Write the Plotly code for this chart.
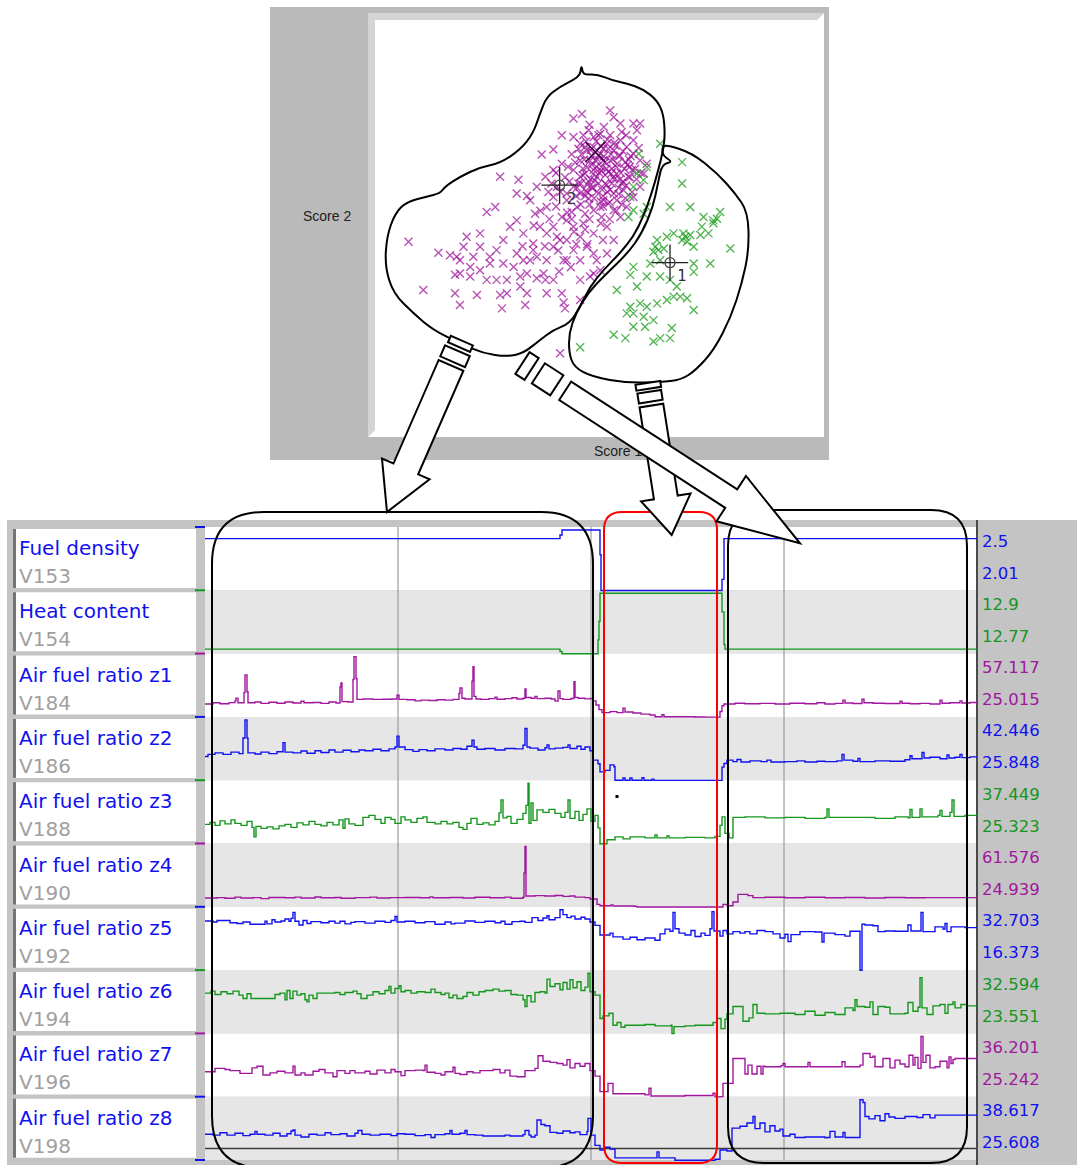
import plotly.graph_objects as go

W, H = 1077, 1165

BLUE = "#1010f0"
GREEN = "#14961c"
PURPLE = "#a0169e"
FONT = "DejaVu Sans"

# ---------------- channel metadata ----------------
channel_names = ["Fuel density", "Heat content", "Air fuel ratio z1", "Air fuel ratio z2",
                 "Air fuel ratio z3", "Air fuel ratio z4", "Air fuel ratio z5",
                 "Air fuel ratio z6", "Air fuel ratio z7", "Air fuel ratio z8"]
channel_ids = ["V153", "V154", "V184", "V186", "V188", "V190", "V192", "V194", "V196", "V198"]
channel_max = [2.5, 12.9, 57.117, 42.446, 37.449, 61.576, 32.703, 32.594, 36.201, 38.617]
channel_min = [2.01, 12.77, 25.015, 25.848, 25.323, 24.939, 16.373, 23.551, 25.242, 25.608]
channel_colors = [BLUE, GREEN, PURPLE, BLUE, GREEN, PURPLE, BLUE, GREEN, PURPLE, BLUE]

# ---------------- trend records: (time, value), held until next record ----------------
fuel_density = [(0, 2.43), (353, 2.43), (355, 2.46), (357, 2.5), (393, 2.5), (395, 2.3), (396, 2.01),
                (515, 2.01), (517, 2.1), (519, 2.43), (772, 2.43)]

heat_content = [(0, 12.78), (353, 12.78), (355, 12.775), (357, 12.77), (392, 12.77), (393, 12.8),
                (394, 12.84), (395, 12.9), (516, 12.9), (517, 12.86), (519, 12.79), (520, 12.78), (772, 12.78)]

afr_z1 = [(0, 32.0), (8, 32.6), (15, 32.1), (24, 32.7), (30, 33.6), (31, 35.1), (33, 32.6), (39, 38.0), (40, 47.4),
          (42, 38.5), (43, 32.6), (50, 33.0), (56, 32.3), (64, 32.9), (72, 32.4), (80, 33.0), (88, 32.5), (96, 33.4),
          (99, 32.6), (108, 32.8), (116, 32.3), (124, 33.0), (131, 32.5), (135, 41.0), (136, 43.1), (137, 33.2),
          (143, 33.0), (148, 45.0), (149, 57.117), (151, 45.5), (152, 34.4), (158, 34.6), (168, 34.4), (178, 34.5),
          (187, 34.6), (192, 36.7), (194, 34.4), (202, 34.2), (210, 33.6), (216, 34.0), (224, 33.8), (232, 34.2),
          (240, 34.0), (248, 34.4), (254, 37.5), (255, 40.5), (257, 35.0), (260, 34.6), (267, 44.0), (268, 51.8),
          (269, 36.0), (271, 34.6), (276, 34.4), (284, 34.8), (290, 35.6), (292, 34.5), (300, 34.8), (307, 35.3),
          (312, 34.6), (318, 35.0), (320, 39.9), (321, 35.4), (326, 35.0), (330, 36.0), (332, 34.8), (340, 35.0),
          (346, 34.6), (350, 33.5), (353, 38.9), (355, 34.8), (358, 34.4), (366, 34.9), (369, 43.8), (370, 35.5),
          (373, 35.0), (380, 34.7), (385, 34.9), (388, 33.6), (391, 31.4), (394, 29.0), (397, 27.4), (405, 27.9),
          (412, 27.4), (418, 29.8), (420, 27.7), (428, 27.2), (436, 26.6), (445, 26.1), (450, 25.2), (457, 26.3),
          (459, 25.2), (490, 25.1), (500, 25.015), (512, 25.015), (515, 28.0), (517, 31.0), (519, 32.0), (530, 32.4),
          (540, 32.1), (555, 32.3), (570, 32.0), (585, 32.4), (600, 32.1), (612, 32.6), (620, 32.0), (630, 32.3),
          (638, 34.0), (640, 32.5), (648, 32.2), (657, 34.5), (659, 32.6), (668, 32.4), (680, 32.2), (695, 33.5),
          (697, 32.4), (705, 32.1), (715, 32.3), (725, 32.0), (735, 34.0), (737, 32.4), (745, 32.6), (755, 33.6),
          (757, 32.5), (765, 32.8), (772, 32.6)]

afr_z2 = [(0, 32.4), (3, 33.0), (10, 33.4), (18, 33.0), (26, 33.6), (34, 33.2), (38, 37.5), (40, 42.446), (42, 37.5),
          (43, 33.4), (50, 33.1), (56, 33.6), (64, 33.2), (72, 33.7), (78, 36.2), (80, 33.6), (88, 33.4), (96, 33.9),
          (102, 33.3), (110, 34.0), (116, 33.5), (124, 34.2), (130, 33.6), (138, 34.1), (146, 33.7), (154, 34.2),
          (160, 34.0), (168, 34.4), (176, 34.0), (184, 34.5), (190, 35.0), (192, 38.0), (194, 35.0), (200, 34.3),
          (208, 33.8), (214, 34.3), (222, 34.0), (230, 34.5), (240, 34.2), (248, 34.6), (256, 34.4), (262, 35.2),
          (267, 36.9), (269, 35.0), (272, 34.4), (280, 34.6), (290, 34.2), (300, 34.6), (310, 34.5), (318, 35.5),
          (320, 40.1), (322, 35.0), (325, 34.7), (333, 34.2), (340, 34.8), (342, 35.6), (344, 34.5), (350, 34.7),
          (358, 34.9), (363, 35.6), (365, 34.6), (372, 35.2), (376, 34.4), (380, 35.0), (385, 34.0), (388, 31.4),
          (393, 30.4), (395, 28.2), (400, 28.6), (405, 30.1), (409, 29.6), (410, 25.9), (418, 26.5), (420, 25.9),
          (425, 26.5), (427, 25.9), (437, 26.6), (439, 25.9), (447, 26.2), (449, 25.848), (515, 25.848), (517, 29.5),
          (519, 30.5), (522, 31.4), (528, 31.0), (532, 31.6), (536, 30.9), (545, 31.2), (556, 31.0), (562, 31.4),
          (566, 30.9), (580, 31.0), (592, 31.2), (600, 30.9), (612, 31.1), (620, 31.0), (632, 31.2), (637, 33.0),
          (639, 31.4), (648, 31.1), (653, 31.9), (655, 31.0), (670, 31.2), (685, 31.1), (700, 31.5), (705, 32.6),
          (707, 31.8), (717, 33.5), (719, 32.0), (725, 32.2), (735, 31.8), (742, 32.8), (744, 32.0), (750, 32.2),
          (755, 33.0), (757, 32.1), (765, 32.3), (772, 32.1)]

afr_z3 = [(0, 29.2), (5, 29.6), (10, 29.0), (15, 29.9), (20, 29.3), (26, 30.1), (30, 29.4), (36, 29.0), (42, 29.8),
          (47, 28.6), (49, 26.7), (51, 28.8), (56, 28.4), (62, 28.7), (68, 28.3), (74, 28.9), (80, 29.2), (86, 28.6),
          (92, 29.5), (98, 29.1), (104, 29.8), (110, 29.2), (116, 28.9), (122, 29.6), (128, 29.1), (134, 30.1),
          (138, 28.4), (140, 30.3), (144, 29.3), (150, 29.0), (158, 30.6), (164, 31.0), (170, 30.2), (176, 29.4),
          (180, 30.6), (186, 30.2), (190, 29.4), (196, 30.7), (200, 30.1), (206, 29.6), (212, 30.4), (218, 30.7),
          (222, 29.6), (230, 29.3), (236, 29.8), (242, 29.3), (248, 29.6), (254, 28.6), (258, 28.2), (262, 29.4),
          (266, 30.4), (272, 29.2), (278, 29.5), (284, 29.1), (290, 29.8), (294, 31.5), (296, 34.1), (298, 30.5),
          (302, 30.8), (306, 29.4), (312, 30.2), (318, 31.4), (321, 33.0), (323, 37.449), (324, 29.4), (326, 33.5),
          (328, 30.0), (332, 32.1), (338, 31.6), (344, 32.2), (350, 31.4), (356, 30.6), (360, 31.6), (363, 34.1),
          (365, 30.4), (370, 31.8), (374, 30.0), (378, 31.2), (382, 32.3), (386, 29.8), (390, 31.0), (393, 28.5),
          (395, 25.323), (402, 26.1), (410, 26.7), (418, 26.3), (425, 26.7), (440, 26.5), (450, 27.1), (452, 26.5),
          (462, 26.9), (464, 26.5), (480, 26.6), (500, 26.5), (510, 26.8), (515, 29.0), (517, 30.7), (520, 27.4),
          (524, 26.5), (528, 30.6), (540, 30.7), (560, 30.5), (580, 30.6), (600, 30.4), (620, 30.6), (622, 32.3),
          (624, 30.6), (650, 30.6), (670, 30.4), (690, 30.7), (703, 30.5), (705, 32.2), (707, 30.6), (713, 30.6),
          (715, 32.3), (717, 30.7), (733, 31.0), (735, 32.0), (737, 30.8), (745, 31.6), (747, 34.1), (749, 30.8),
          (760, 31.0), (772, 30.9)]

afr_z4 = [(0, 30.4), (12, 30.6), (20, 30.2), (30, 30.9), (36, 30.4), (48, 30.6), (56, 30.0), (64, 30.7), (80, 30.5),
          (90, 30.9), (96, 30.4), (110, 31.0), (116, 30.5), (130, 30.7), (136, 30.2), (150, 30.6), (165, 30.9),
          (172, 30.4), (185, 30.6), (200, 30.7), (215, 30.5), (225, 31.1), (228, 30.5), (245, 30.7), (258, 30.4),
          (270, 30.8), (285, 30.5), (300, 30.9), (306, 30.2), (318, 30.8), (319, 45.5), (320, 61.576), (321, 31.6),
          (330, 31.8), (340, 31.6), (350, 31.9), (358, 31.4), (365, 31.6), (370, 30.9), (380, 30.6), (385, 29.8),
          (392, 26.5), (395, 25.7), (406, 26.2), (408, 25.5), (430, 25.3), (432, 24.939), (516, 24.939), (518, 26.5),
          (522, 25.7), (528, 28.0), (533, 32.6), (538, 32.6), (543, 31.8), (548, 30.6), (560, 30.8), (580, 30.5),
          (600, 30.8), (620, 30.5), (640, 30.7), (660, 30.4), (680, 30.7), (700, 30.5), (720, 30.6), (772, 30.6)]

afr_z5 = [(0, 29.7), (8, 29.4), (12, 29.8), (25, 29.2), (32, 29.0), (38, 29.4), (45, 28.8), (55, 28.8), (60, 29.6),
          (62, 28.9), (67, 30.0), (70, 29.4), (76, 29.7), (80, 30.2), (84, 29.6), (86, 30.4), (88, 32.0), (90, 29.6),
          (94, 28.6), (98, 29.8), (102, 29.0), (106, 29.5), (116, 29.2), (124, 29.6), (130, 29.1), (135, 29.6),
          (140, 28.9), (146, 29.3), (150, 29.5), (160, 29.1), (170, 29.6), (180, 29.3), (186, 29.8), (190, 30.9),
          (192, 29.4), (200, 29.6), (210, 29.2), (220, 29.5), (230, 28.8), (240, 29.4), (246, 28.9), (250, 29.1),
          (260, 29.7), (270, 29.3), (280, 29.6), (290, 29.2), (296, 29.6), (300, 28.8), (307, 29.5), (315, 29.6),
          (320, 29.3), (327, 30.6), (333, 29.8), (338, 30.5), (342, 31.1), (344, 30.0), (350, 30.6), (355, 32.703),
          (358, 31.4), (362, 30.6), (366, 31.0), (370, 30.2), (376, 30.7), (380, 30.2), (385, 29.4), (390, 28.5),
          (395, 25.9), (405, 26.4), (408, 25.4), (418, 24.8), (425, 25.3), (432, 24.6), (440, 25.1), (450, 24.5),
          (455, 26.2), (460, 27.5), (465, 26.9), (468, 32.0), (470, 27.6), (474, 26.4), (480, 25.9), (486, 27.1),
          (490, 25.5), (496, 26.4), (500, 25.8), (505, 27.6), (507, 32.2), (509, 27.0), (515, 25.6), (518, 27.1),
          (522, 26.2), (528, 26.8), (535, 26.4), (540, 26.8), (545, 26.2), (552, 27.1), (560, 26.8), (568, 26.2),
          (575, 25.1), (580, 26.1), (583, 24.1), (586, 26.0), (595, 26.8), (610, 26.7), (617, 24.0), (619, 26.4),
          (630, 26.0), (640, 25.6), (645, 26.9), (654, 26.9), (655, 16.373), (657, 28.8), (660, 28.6), (668, 28.4),
          (673, 26.8), (680, 27.0), (690, 26.9), (700, 26.9), (703, 28.6), (706, 27.0), (712, 27.0), (716, 32.0),
          (718, 26.8), (728, 26.8), (730, 28.1), (738, 27.5), (740, 29.0), (742, 26.8), (746, 28.1), (760, 27.9),
          (772, 28.0)]

afr_z6 = [(0, 29.6), (6, 29.9), (10, 29.4), (16, 29.8), (22, 29.5), (28, 29.9), (34, 29.3), (38, 28.8), (42, 29.5),
          (46, 28.8), (68, 28.8), (70, 29.4), (75, 29.6), (80, 28.6), (82, 30.0), (85, 28.8), (88, 29.9), (92, 29.3),
          (96, 29.5), (100, 28.6), (102, 28.3), (104, 29.3), (108, 28.8), (112, 29.6), (130, 29.7), (135, 29.4),
          (140, 29.7), (148, 29.9), (152, 29.5), (156, 28.8), (162, 29.3), (168, 29.8), (174, 29.5), (180, 30.0),
          (184, 30.6), (186, 29.6), (190, 30.3), (194, 30.7), (196, 29.8), (200, 30.0), (206, 29.6), (212, 29.8),
          (220, 29.7), (226, 30.2), (230, 29.7), (236, 29.4), (240, 29.6), (244, 28.9), (248, 29.3), (252, 28.8),
          (258, 29.1), (262, 29.7), (268, 29.3), (274, 29.8), (280, 30.0), (288, 30.2), (294, 29.9), (300, 30.0),
          (306, 29.4), (312, 29.3), (318, 28.6), (320, 27.6), (322, 29.2), (326, 28.3), (330, 29.7), (335, 29.8),
          (340, 29.6), (342, 31.7), (345, 30.6), (350, 31.0), (355, 30.1), (358, 31.2), (362, 30.2), (365, 31.6),
          (368, 30.4), (372, 31.3), (376, 30.0), (380, 30.5), (383, 32.594), (385, 29.8), (390, 29.3), (395, 25.8),
          (398, 26.2), (404, 26.6), (408, 24.8), (412, 25.2), (416, 24.5), (420, 24.8), (440, 24.9), (450, 24.7),
          (466, 24.8), (467, 23.551), (469, 24.6), (480, 24.7), (490, 24.8), (508, 25.2), (512, 25.8), (516, 24.3),
          (520, 25.7), (522, 26.5), (528, 27.6), (535, 27.6), (538, 25.4), (544, 25.9), (548, 27.9), (552, 26.6),
          (560, 26.5), (575, 26.6), (590, 26.4), (600, 26.9), (610, 26.3), (620, 26.7), (630, 26.4), (640, 27.4),
          (648, 27.0), (650, 28.6), (652, 27.6), (660, 27.5), (665, 28.3), (668, 26.4), (673, 27.6), (680, 27.5),
          (685, 26.5), (700, 26.6), (703, 28.2), (708, 26.9), (713, 27.5), (715, 31.9), (717, 27.4), (722, 26.4),
          (728, 27.7), (735, 27.9), (740, 26.6), (743, 27.9), (748, 28.3), (750, 27.4), (756, 27.9), (762, 27.7),
          (772, 27.7)]

afr_z7 = [(0, 29.8), (10, 30.4), (20, 30.2), (25, 30.0), (35, 29.5), (47, 30.5), (52, 30.8), (58, 29.2), (65, 29.6),
          (72, 29.9), (80, 29.6), (88, 30.8), (90, 29.2), (96, 29.6), (100, 29.2), (108, 29.9), (114, 30.2), (120, 29.6),
          (128, 28.9), (132, 30.0), (140, 29.5), (145, 30.0), (150, 29.6), (160, 29.9), (165, 29.4), (172, 30.1),
          (180, 29.6), (186, 30.2), (190, 29.8), (196, 29.1), (200, 30.0), (210, 30.1), (218, 30.0), (220, 31.0),
          (222, 29.7), (230, 29.5), (236, 29.2), (240, 29.8), (248, 30.6), (250, 29.5), (255, 29.3), (262, 29.8),
          (268, 29.6), (275, 30.0), (282, 30.0), (288, 30.2), (295, 29.6), (300, 30.1), (305, 29.0), (312, 28.9),
          (320, 30.0), (330, 30.4), (333, 32.7), (338, 31.7), (345, 31.5), (352, 31.3), (358, 31.0), (362, 32.0),
          (365, 30.5), (370, 31.3), (375, 30.8), (380, 31.3), (385, 30.0), (390, 29.0), (395, 26.2), (403, 27.7),
          (408, 25.8), (440, 25.6), (444, 26.8), (446, 25.4), (480, 25.5), (508, 25.9), (510, 25.242), (515, 25.3),
          (518, 27.7), (522, 27.7), (528, 32.2), (538, 32.2), (540, 29.4), (543, 31.0), (547, 29.4), (552, 30.8),
          (555, 30.8), (556, 29.4), (558, 30.8), (560, 30.7), (576, 30.9), (578, 31.3), (580, 30.7), (600, 30.7),
          (603, 31.5), (605, 30.7), (635, 30.7), (637, 31.6), (640, 30.7), (655, 31.0), (658, 33.1), (665, 32.4),
          (668, 32.6), (670, 30.7), (677, 30.7), (678, 32.2), (682, 32.2), (685, 30.5), (690, 31.9), (695, 31.2),
          (700, 30.7), (704, 32.8), (708, 31.0), (710, 32.4), (713, 30.4), (716, 36.201), (718, 31.5), (721, 32.8),
          (725, 30.5), (730, 30.7), (735, 31.7), (740, 31.7), (742, 30.5), (744, 32.5), (746, 31.3), (748, 32.0),
          (750, 32.2), (772, 32.2)]

afr_z8 = [(0, 31.2), (8, 31.0), (15, 31.5), (22, 31.0), (30, 31.4), (38, 30.9), (45, 31.2), (50, 31.8), (52, 31.2),
          (60, 31.0), (68, 31.4), (75, 30.8), (82, 31.3), (86, 31.9), (88, 32.1), (90, 31.0), (96, 30.6), (104, 31.2),
          (112, 31.0), (120, 31.5), (126, 31.1), (135, 31.3), (142, 30.8), (150, 31.4), (153, 32.0), (157, 31.2),
          (165, 31.0), (175, 31.2), (186, 30.9), (192, 31.3), (200, 31.2), (210, 30.9), (220, 31.1), (226, 30.5),
          (230, 31.1), (240, 31.3), (245, 32.0), (247, 31.2), (255, 31.4), (260, 32.0), (262, 31.1), (270, 31.0),
          (278, 30.8), (290, 30.8), (300, 31.0), (305, 30.8), (318, 31.1), (320, 32.0), (324, 31.0), (326, 30.6),
          (330, 31.0), (332, 34.25), (336, 33.3), (340, 33.0), (345, 31.6), (352, 31.4), (358, 31.9), (365, 31.5),
          (370, 31.7), (375, 31.1), (382, 31.8), (383, 34.6), (386, 31.0), (390, 28.8), (395, 27.8), (400, 28.4),
          (405, 28.0), (410, 26.1), (450, 26.1), (452, 27.4), (454, 26.1), (470, 25.608), (510, 25.8), (515, 27.8),
          (522, 27.6), (527, 32.5), (535, 32.9), (542, 33.6), (548, 35.0), (550, 32.4), (555, 33.6), (560, 31.7),
          (565, 33.0), (570, 31.9), (575, 32.3), (578, 30.8), (585, 31.2), (590, 30.5), (600, 30.6), (620, 30.4),
          (622, 30.5), (625, 31.8), (630, 30.6), (638, 31.6), (640, 30.5), (650, 30.5), (655, 38.617), (658, 38.0),
          (660, 35.0), (664, 34.5), (670, 35.2), (675, 34.1), (680, 35.6), (684, 34.9), (690, 34.6), (700, 35.0),
          (712, 34.8), (718, 35.4), (725, 34.7), (730, 35.3), (772, 35.3)]

channel_series = [fuel_density, heat_content, afr_z1, afr_z2, afr_z3, afr_z4, afr_z5, afr_z6, afr_z7, afr_z8]

# ---------------- score plot (Score 1 vs Score 2) ----------------
group2_s1 = [-4.25, -3.58, -3.92, -3.21, -3.10, -2.72, -2.20, -2.16, -1.64, -1.16, -0.75, -0.78, -0.86, -3.21, -2.95,
             -2.65, -2.50, -2.31, -2.20, -1.79, -1.83, -1.60, -1.42, -1.27, -1.01, -0.82, -0.56, -0.37, 0.26, 0.34,
             0.49, 0.78, 0.93, 0.86, 0.52, -0.56, -0.22, 0.04, -3.32, -3.10, -2.87, -2.65, -2.43, -2.28, -2.05, -1.90,
             -1.75, -1.60, -1.38, -1.19, -1.01, -0.71, -0.41, -0.19, 0.04, -0.41, -0.26, -0.56, -0.86, -1.01, -1.16,
             -1.31, -1.46, -1.68, -1.83, -1.98, -2.13, -2.28, -2.43, -2.65, -2.80, -3.02, -3.17, -2.87, -3.10, -2.50,
             -1.83, -1.53, -1.38, -1.60, -1.75, -2.05, -1.46, -1.23, -0.82, -0.41, -0.11, 0.19, 0.34, -0.04, -1.01,
             -0.71, -1.16, -1.38, -1.53, -1.19, -1.01, -0.93, -0.71, -0.82, -0.41, -0.26, -0.11, 0.04, 0.19, 0.34,
             0.49, 0.63, 0.78, 0.93, -0.41, -0.26, -0.07, 0.07, 0.26, 0.41, 0.60, 0.75, -0.56, -0.41, -0.22, -0.04,
             0.15, 0.34, 0.52, 0.67, -0.56, -0.41, -0.22, -0.04, 0.11, 0.34, 0.56, -0.71, -0.48, -0.30, -0.11, 0.07,
             0.34, 0.49, -0.34, -0.56, -0.82, -0.93, -0.71, -0.41, -0.11, 0.19, 0.63, 0.78, 0.93, 1.01, 1.08, 0.78,
             -0.11, -0.34, 0.26, 0.00, -0.07, -0.19, 0.11, -0.30, 0.22, -0.11, -0.45, 0.04, 0.22, 0.41, -0.26, -0.60,
             -1.01, -1.12, -0.11, -0.78, -1.16, -2.13, -1.68, -0.30, 0.11, 0.45, -0.15, 0.18, 0.50, -0.35, 0.02, 0.30,
             -0.12, 0.20, -0.50, 0.45, 0.60, -0.20, 0.10, 0.70, 0.85, -0.05, 0.38, -0.60, -0.75, -0.95, -0.60, -0.30,
             -0.50, -0.62, -0.88, 0.05, 0.25,
             -0.45, -0.28, -0.15, 0.05, 0.28, 0.42, 0.55, 0.68, 0.82, -0.52, -0.35, -0.18, 0.00, 0.15, 0.30, 0.48,
             0.62, 0.75, -0.65, -0.48, -0.30, -0.10, 0.08, 0.25, 0.40, -0.40, -0.20, -0.70, -0.85, -1.05, -0.95, -0.68,
             0.12, -0.20, 0.62, 0.90, 0.95, 0.70, -0.05, 0.35, 0.52, -0.55, -0.25, 0.10, -1.30, -1.10, -1.45, -0.90,
             -1.20, -1.70,
             -0.02, 0.14, 0.22, 0.06, -0.12, 0.32, 0.18, -0.25, 0.40, 0.26, -0.08, 0.12, -0.32, 0.48, 0.36, -0.18,
             0.00, 0.58, 0.10, -0.40, 0.65, 0.28, -0.15, 0.45, 0.05, -0.28, 0.55, 0.72, 0.20, -0.38]
group2_s2 = [-0.34, -0.60, -1.49, -1.57, -1.85, -1.61, -1.61, -1.93, -1.85, -1.57, -1.93, -1.79, -3.00, -1.13, -0.22,
             -0.14, 0.37, 0.49, 1.21, 1.14, 0.81, 0.75, 0.33, 1.74, 1.86, 2.20, 2.60, 2.71, 2.79, 2.63, 2.48, 2.48,
             2.48, 2.32, 2.28, 2.16, 2.32, 2.24, -0.66, -0.78, -0.94, -1.02, -0.86, -1.25, -1.25, -0.94, -1.17, -1.10,
             -1.21, -1.25, -1.25, -0.78, -1.25, -1.17, -1.02, -0.78, -0.46, -0.54, -0.30, -0.46, -0.14, 0.02, -0.38,
             -0.14, 0.17, 0.02, -0.30, -0.54, -0.70, -0.46, -0.70, -0.46, -0.70, -1.17, -1.10, -1.25, -0.62, -0.78,
             -0.70, -1.57, -1.41, -1.57, -0.54, -1.10, -1.57, -1.73, -1.10, -0.62, -0.30, -0.78, 0.02, 0.17, 0.49,
             0.97, 0.65, 1.21, 1.37, 0.97, 0.81, 1.52, 2.00, 1.84, 1.92, 1.76, 2.00, 1.84, 2.08, 1.92, 1.76, 1.60,
             1.60, 1.44, 1.60, 1.44, 1.60, 1.44, 1.56, 1.37, 1.37, 1.21, 1.09, 1.21, 1.05, 1.21, 1.05, 1.21, 0.97,
             0.81, 0.69, 0.85, 0.65, 0.81, 0.89, 0.65, 0.49, 0.33, 0.41, 0.25, 0.41, 0.25, 0.10, 0.02, 0.25, -0.22,
             -0.30, -0.22, -0.14, 0.02, 0.49, 0.73, 0.97, 1.29, 1.52, 2.08, 2.16, 2.20, 2.20, 1.72, 1.80, 1.60, 1.60,
             1.29, 1.33, 1.37, 1.05, 0.49, 0.57, 0.65, 0.85, 0.37, 0.73, 0.85, -0.62, -0.78, -0.78, -0.86, -0.78,
             1.92, 1.88, 1.70, 1.50, 1.40, 1.30, 1.40, 1.30, 1.05, 0.95, 0.85, 0.75, 0.95, 0.70, 0.55, 0.75, 1.45,
             1.15, 2.05, 1.95, 1.75, 1.20, 0.50, 0.20, -0.05, -0.40, -0.95, -1.05, 0.10, 0.20,
             1.88, 2.05, 1.70, 1.95, 1.75, 1.52, 1.82, 1.62, 1.40, 1.55, 1.25, 1.15, 1.05, 1.25, 1.40, 1.15,
             1.00, 0.85, 1.10, 0.95, 0.75, 0.70, 0.90, 0.60, 0.40, 0.55, 0.20, 0.35, 0.85, 1.05, 1.30, 1.45,
             2.40, 2.45, 2.20, 1.90, 1.30, 1.20, 1.45, 1.15, 0.55, -0.10, -0.40, -0.30, 0.40, 0.20, 0.05, -0.55,
             -0.45, -0.45,
             1.62, 1.55, 1.88, 1.36, 1.28, 1.62, 1.02, 1.02, 1.28, 0.90, 1.12, 1.70, 1.62, 1.72, 2.02, 1.85,
             2.20, 1.40, 0.50, 1.05, 1.50, 1.28, 0.95, 0.80, 0.62, 0.88, 1.10, 1.70, 2.10, 1.75]

group1_s1 = [1.38, 0.90, 1.08, 0.86, 1.01, 0.78, 0.71, 0.78, 0.67, 1.01, 1.08, 1.60, 1.87, 1.87, 2.05, 2.35, 2.57, 2.72,
             2.31, 2.46, 2.95, 2.50, 2.13, 2.13, 1.90, 1.98, 2.13, 1.68, 1.53, 1.31, 1.23, 1.46, 1.38, 1.16, 0.78, 0.71,
             0.86, 0.41, 1.08, 1.38, 1.60, 1.75, 1.68, 1.83, 1.98, 1.53, 1.31, 1.08, 0.93, 0.71, 0.63, 0.78, 1.01, 1.23,
             0.78, 1.04, 0.34, 0.60, 1.23, 1.38, 1.60, 1.64, -0.41, 2.13, 1.27, 1.34, 1.94, 2.05, 1.87, 2.57, 2.65, 2.28]
group1_s2 = [2.00, 1.76, 1.44, 1.29, 1.13, 0.97, 0.73, 0.41, 0.25, 0.33, 0.49, 0.49, 1.05, 1.56, 0.49, 0.25, 0.17, 0.37,
             0.02, -0.14, -0.50, -0.86, -0.86, -1.06, -0.14, -0.34, -0.46, -0.14, -0.22, -0.30, -0.58, -0.50, -0.78,
             -0.86, -0.94, -1.13, -1.41, -1.49, -1.17, -1.17, -1.25, -1.41, -1.65, -1.65, -1.69, -1.73, -1.81, -1.89,
             -1.81, -1.89, -2.05, -2.05, -2.13, -2.21, -2.37, -2.37, -2.56, -2.64, -2.72, -2.64, -2.64, -2.40, -2.86,
             -1.97, -0.46, -0.54, -0.22, -0.18, -0.30, 0.10, 0.21, -0.18]

centroid_s1 = [1.60, -0.87]
centroid_s2 = [-0.84, 1.01]
centroid_names = ["1", "2"]
densest_s1 = [-0.07]
densest_s2 = [1.80]


# ---------------- helpers (pixel -> paper) ----------------
def fx(px):
    return px / W


def fy(py):
    return 1 - py / H


def pt(p):
    return f"{fx(p[0]):.5f},{fy(p[1]):.5f}"


shapes = []


def rect(x0, y0, x1, y1, fill, layer="below"):
    shapes.append(dict(type="rect", xref="paper", yref="paper", x0=fx(x0), x1=fx(x1), y0=fy(y1), y1=fy(y0),
                       fillcolor=fill, line=dict(width=0), layer=layer))


def seg(x0, y0, x1, y1, color, width, layer="below"):
    shapes.append(dict(type="line", xref="paper", yref="paper", x0=fx(x0), y0=fy(y0), x1=fx(x1), y1=fy(y1),
                       line=dict(color=color, width=width), layer=layer))


def poly(points, fill, color="black", width=2.0, layer="above"):
    d = "M " + " L ".join(pt(p) for p in points) + " Z"
    shapes.append(dict(type="path", xref="paper", yref="paper", path=d, fillcolor=fill,
                       line=dict(color=color, width=width), layer=layer))


def smooth_loop(points, color="black", width=2.0):
    n = len(points)
    mids = [((points[i][0] + points[(i + 1) % n][0]) / 2, (points[i][1] + points[(i + 1) % n][1]) / 2)
            for i in range(n)]
    d = "M " + pt(mids[-1])
    for i in range(n):
        d += " Q " + pt(points[i]) + " " + pt(mids[i])
    d += " Z"
    shapes.append(dict(type="path", xref="paper", yref="paper", path=d, fillcolor="rgba(0,0,0,0)",
                       line=dict(color=color, width=width), layer="above"))


def rounded_box(x0, y0, x1, y1, r, color, width=2.0):
    d = ("M " + pt((x0 + r, y0)) + " L " + pt((x1 - r, y0)) + " Q " + pt((x1, y0)) + " " + pt((x1, y0 + r)) +
         " L " + pt((x1, y1 - r)) + " Q " + pt((x1, y1)) + " " + pt((x1 - r, y1)) +
         " L " + pt((x0 + r, y1)) + " Q " + pt((x0, y1)) + " " + pt((x0, y1 - r)) +
         " L " + pt((x0, y0 + r)) + " Q " + pt((x0, y0)) + " " + pt((x0 + r, y0)) + " Z")
    shapes.append(dict(type="path", xref="paper", yref="paper", path=d, fillcolor="rgba(0,0,0,0)",
                       line=dict(color=color, width=width), layer="above"))


def block_arrow(tip, direction, head_len, head_hw, shaft_hw, shaft_end, blocks):
    dl = (direction[0] ** 2 + direction[1] ** 2) ** 0.5
    dx, dy = direction[0] / dl, direction[1] / dl
    nx, ny = -dy, dx

    def P(s, w):
        return (tip[0] - dx * s + nx * w, tip[1] - dy * s + ny * w)

    for s0, s1, hw in blocks:
        poly([P(s0, hw), P(s1, hw), P(s1, -hw), P(s0, -hw)], "white")
    poly([P(0, 0), P(head_len, head_hw), P(head_len, shaft_hw), P(shaft_end, shaft_hw),
          P(shaft_end, -shaft_hw), P(head_len, -shaft_hw), P(head_len, -head_hw)], "white")


# ---------------- score panel frame ----------------
rect(270, 7, 829, 460, "#bababa")
poly([(368, 13), (824, 13), (817, 20), (375, 20), (375, 430), (368, 437)], "#d4d4d4", width=0, layer="below")
poly([(375, 20), (817, 20), (824, 13), (824, 437), (368, 437), (375, 430)], "white", width=0, layer="below")

# ---------------- trend panel frame ----------------
PLOT_X0, PLOT_X1 = 205, 977
STRIP_TOP, STRIP_H = 527.0, 63.3
rect(7, 520, 1077, 1165, "#c4c4c4")
for k in range(10):
    T = STRIP_TOP + STRIP_H * k
    rect(PLOT_X0, T, PLOT_X1, T + STRIP_H, "white" if k % 2 == 0 else "#e6e6e6")
    rect(16, T + 2, 196, T + 61, "white")
    rect(13, T + 2, 16, T + 61, "#747474")
    seg(195, T, 205, T, channel_colors[k], 2)
seg(195, 1160, 205, 1160, BLUE, 2)
for gx in (398, 591, 784):
    seg(gx, 527, gx, 1160, "#8a8a8a", 1)
seg(PLOT_X0, 1148.5, PLOT_X1, 1148.5, "#3c3c3c", 1.3)
seg(977, 520, 977, 1165, "#4a4a4a", 2)
rect(615.5, 795, 618.5, 798, "black", layer="above")

# ---------------- traces ----------------
fig = go.Figure()
layout_axes = {}
annotations = []

for k in range(10):
    n = k + 1
    xname = "x" if n == 1 else f"x{n}"
    yname = "y" if n == 1 else f"y{n}"
    T = STRIP_TOP + STRIP_H * k
    lo, hi = channel_min[k], channel_max[k]
    per_px = (hi - lo) / 60.5
    rng = [lo - 2.5 * per_px, lo + 65.5 * per_px]
    layout_axes["xaxis" if n == 1 else f"xaxis{n}"] = dict(
        domain=[fx(PLOT_X0), fx(PLOT_X1)], range=[0, 772], visible=False, anchor=yname, fixedrange=True)
    layout_axes["yaxis" if n == 1 else f"yaxis{n}"] = dict(
        domain=[fy(T + 66), fy(T - 2)], range=rng, visible=False, anchor=xname, fixedrange=True)
    recs = channel_series[k]
    fig.add_trace(go.Scatter(x=[r[0] for r in recs], y=[r[1] for r in recs], mode="lines",
                             line=dict(color=channel_colors[k], width=1.4, shape="hv"),
                             xaxis=xname, yaxis=yname, hoverinfo="skip"))
    annotations.append(dict(x=fx(17), y=fy(T + 21), xref="paper", yref="paper", text=channel_names[k],
                            showarrow=False, xanchor="left", yanchor="middle",
                            font=dict(family=FONT, size=20, color=BLUE)))
    annotations.append(dict(x=fx(17), y=fy(T + 49), xref="paper", yref="paper", text=channel_ids[k],
                            showarrow=False, xanchor="left", yanchor="middle",
                            font=dict(family=FONT, size=20, color="#a0a0a0")))
    annotations.append(dict(x=fx(980), y=fy(T + 14), xref="paper", yref="paper", text=str(hi),
                            showarrow=False, xanchor="left", yanchor="middle",
                            font=dict(family=FONT, size=16.5, color=channel_colors[k])))
    annotations.append(dict(x=fx(980), y=fy(T + 46), xref="paper", yref="paper", text=str(lo),
                            showarrow=False, xanchor="left", yanchor="middle",
                            font=dict(family=FONT, size=16.5, color=channel_colors[k])))

# score subplot
layout_axes["xaxis11"] = dict(domain=[fx(375), fx(822)], range=[-5, 5], visible=False, anchor="y11", fixedrange=True)
layout_axes["yaxis11"] = dict(domain=[fy(437), fy(18)], range=[-5, 5], visible=False, anchor="x11", fixedrange=True)
fig.add_trace(go.Scatter(x=group2_s1, y=group2_s2, mode="markers", xaxis="x11", yaxis="y11", hoverinfo="skip",
                         marker=dict(symbol="x-thin", size=8, color=PURPLE, opacity=0.7,
                                     line=dict(color="#9a0a98", width=1.4))))
fig.add_trace(go.Scatter(x=group1_s1, y=group1_s2, mode="markers", xaxis="x11", yaxis="y11", hoverinfo="skip",
                         marker=dict(symbol="x-thin", size=8, color="#22a022", opacity=0.8,
                                     line=dict(color="#22a022", width=1.3))))
fig.add_trace(go.Scatter(x=densest_s1, y=densest_s2, mode="markers", xaxis="x11", yaxis="y11", hoverinfo="skip",
                         marker=dict(symbol="x-thin", size=20, color="#3a003a", line=dict(color="#3a003a", width=1.5))))
fig.add_trace(go.Scatter(x=centroid_s1, y=centroid_s2, mode="markers", xaxis="x11", yaxis="y11", hoverinfo="skip",
                         marker=dict(symbol="cross-thin", size=26, color="#222", line=dict(color="#222", width=1.3))))
fig.add_trace(go.Scatter(x=centroid_s1, y=centroid_s2, mode="markers+text", xaxis="x11", yaxis="y11",
                         hoverinfo="skip", text=centroid_names, textposition="bottom right",
                         textfont=dict(family=FONT, size=15, color="#333"),
                         marker=dict(symbol="circle-open", size=10, color="#444", line=dict(width=1.3))))

# axis captions of the score plot (drawn under the arrows)
layout_axes["xaxis12"] = dict(domain=[0, 1], range=[0, W], visible=False, anchor="y12", fixedrange=True)
layout_axes["yaxis12"] = dict(domain=[0, 1], range=[H, 0], visible=False, anchor="x12", fixedrange=True)
fig.add_trace(go.Scatter(x=[303, 594], y=[217, 452], mode="text", text=["Score 2", "Score 1"],
                         textposition="middle right", xaxis="x12", yaxis="y12", hoverinfo="skip",
                         cliponaxis=False, textfont=dict(family="Liberation Sans", size=14, color="#202020")))

# ---------------- lasso outlines of the two groups ----------------
group2_outline = [(581.7, 66.7), (583.3, 75), (596.7, 74), (613.3, 80.7), (626.7, 83.3), (643.3, 89.3), (656.7, 100),
                  (663.3, 113.3), (665, 133.3), (663.3, 150), (658.3, 170), (651.7, 193.3), (643.3, 216.7),
                  (633.3, 236.7), (620, 253.3), (603.3, 270), (590, 286.7), (580, 306.7), (570, 323.3), (553.3, 330),
                  (540, 340), (523.3, 353.3), (506.7, 356.7), (483.3, 353.3), (460, 343.3), (433.3, 330),
                  (413.3, 313.3), (393.3, 293.3), (385, 266.7), (386.7, 236.7), (395, 213.3), (406.7, 201.7),
                  (426.7, 196.7), (440, 193.3), (445, 186.7), (460, 176.7), (480, 167.3), (500, 163.3), (520, 150),
                  (533.3, 133.3), (540, 113.3), (546.7, 96.7), (560, 86.7), (573.3, 80), (580, 75), (581, 68)]
group1_outline = [(667, 145), (692, 153), (717, 173), (735, 193), (748, 212), (749, 250), (742, 283), (731, 317),
                  (714, 350), (696, 370), (681, 380), (660, 382), (628, 383), (592, 377), (574, 367), (569, 353),
                  (569, 333), (576, 313), (588, 293), (603, 277), (628, 253), (642, 233), (653, 207), (658, 183),
                  (662, 164), (673, 162), (663, 156), (662, 147)]
smooth_loop(group2_outline)
smooth_loop(group1_outline)

# ---------------- selection boxes on the trend ----------------
rounded_box(212, 512, 593, 1168, 52, "black", 2)
rounded_box(604, 512, 717, 1163, 18, "#ff0000", 2)
rounded_box(728, 510, 967, 1163, 36, "black", 2)

# ---------------- arrows from groups to time ranges ----------------
block_arrow((387, 512), (-0.4, 0.916), 47, 26, 13.5, 160, [(164, 176, 13.5), (180, 187, 12)])
block_arrow((671.7, 535), (0.155, 0.988), 38, 25, 12, 131, [(135, 145, 12), (148, 154, 12.5)])
block_arrow((800, 543.3), (0.839, 0.545), 82, 27, 11, 280, [(290, 312, 12), (320, 331, 13)])

fig.update_layout(
    width=W, height=H, margin=dict(l=0, r=0, t=0, b=0), autosize=False,
    paper_bgcolor="white", plot_bgcolor="rgba(0,0,0,0)", showlegend=False,
    shapes=shapes, annotations=annotations, **layout_axes)

fig.write_html("out.html")
